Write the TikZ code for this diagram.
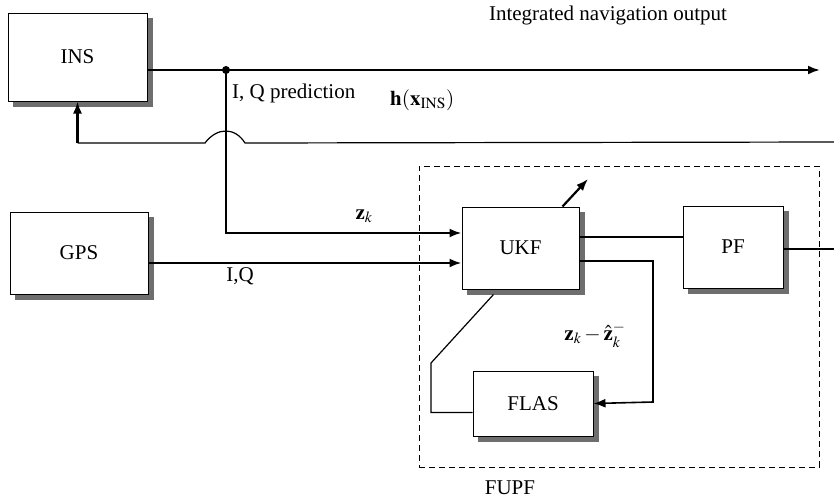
\documentclass[tikz,border=0pt]{standalone}
\usepackage{mathptmx}
\usepackage{fontspec}
\setmainfont{Liberation Serif}
\usetikzlibrary{arrows.meta}

\begin{document}
\begin{tikzpicture}[x=1pt, y=-1pt, font=\fontsize{21}{25}\selectfont]
            \definecolor{shadowgray}{RGB}{110,110,110}
            \tikzstyle{block} = [draw, line width=1pt, fill=white, inner sep=0pt]
            \tikzstyle{block shadow} = [draw=shadowgray, line width=5pt]
            \tikzstyle{main arrow} = [line width=2.2pt, -{Latex[length=12pt, width=9pt]}]
            \tikzstyle{thin line} = [line width=1.2pt]
            \tikzstyle{thin arrow} = [line width=1.6pt, -{Latex[length=12pt, width=9pt]}]
            \tikzstyle{fupf box} = [draw, line width=1pt, dash pattern=on 6pt off 4pt, inner sep=0pt]
            \tikzstyle{label} = [inner sep=0pt]

            \useasboundingbox (0, 0) rectangle (834, 499);

            \node[block, minimum width=139pt, minimum height=88pt] (ins) at (77.5, 57) {INS};
            \node[block, minimum width=138pt, minimum height=82pt] (gps) at (79, 253) {GPS};
            \node[fupf box, minimum width=400pt, minimum height=301pt] (fupf) at (619, 316.5) {};
            \node[block, minimum width=117pt, minimum height=82pt] (ukf) at (520.5, 248) {UKF};
            \node[block, minimum width=100pt, minimum height=82pt] (pf) at (733, 247) {PF};
            \node[block, minimum width=120pt, minimum height=65pt] (flas) at (533, 403.5) {FLAS};

            % grey shadows along the right and lower sides
            \foreach \blk in {ins, gps, ukf, pf, flas}
                \draw[block shadow] ([shift={(3pt,-5pt)}]\blk.north east) -- ([shift={(3pt,-3pt)}]\blk.south east)
                    -- ([shift={(5pt,-3pt)}]\blk.south west);

            \coordinate (split) at (226, 70);
            \coordinate (navout) at (820, 70);
            \coordinate (fbend) at (834, 142);
            \coordinate (bumpr) at (245, 143);
            \coordinate (bumpl) at (205, 143);
            \coordinate (fbcorner) at (77.5, 143);
            \coordinate (zkin) at ([yshift=15pt]ukf.west);
            \coordinate (gpsin) at ([yshift=-15pt]ukf.west);
            \coordinate (ukfout) at (588, 179);
            \coordinate (ukftopf) at ([yshift=11pt]ukf.east);
            \coordinate (pfout) at (834, 249);
            \coordinate (loopr) at (653, 402);
            \coordinate (loopl) at (431, 363);

            % INS output and feedback
            \draw[main arrow] (ins.east |- split) -- (navout);
            \fill (split) circle[radius=4pt];
            \draw[thin line] (fbend) -- (bumpr) .. controls (235, 127) and (217, 127) .. (bumpl) -- (fbcorner);
            \draw[main arrow] (fbcorner) -- (ins.south);

            % measurements into UKF
            \draw[main arrow] (split) |- (zkin);
            \draw[main arrow] (gps.east |- gpsin) -- (gpsin);
            \draw[main arrow] ([xshift=42pt]ukf.north) -- (ukfout);

            % inside FUPF
            \draw[thin line] (ukftopf) -- (pf.west |- ukftopf);
            \draw[thin line] ([yshift=-2pt]pf.east) -- (pfout);
            \draw[thin arrow] ([yshift=-13pt]ukf.east) -| (loopr) -- (flas.east);
            \draw[thin line] ([yshift=-9pt]flas.west) -| (loopl) -- ([xshift=-27pt, yshift=-5pt]ukf.south);

            \node[label] (navlabel) at (608, 15) {Integrated navigation output};
            \node[label, anchor=west] (iqpred) at (232, 93) {I, Q prediction};
            \node[label, anchor=west] (hlabel) at (390, 100) {$\mathbf{h}(\mathbf{x}_{\mathrm{INS}})$};
            \node[label] (zklabel) at (364, 216) {$\mathbf{z}_k$};
            \node[label] (iqlabel) at (240, 276) {I,Q};
            \node[label] (innov) at (595, 335) {$\mathbf{z}_k-\hat{\mathbf{z}}_k^{-}$};
            \node[label] (fupflabel) at (510, 488) {FUPF};

        \end{tikzpicture}
\end{document}
